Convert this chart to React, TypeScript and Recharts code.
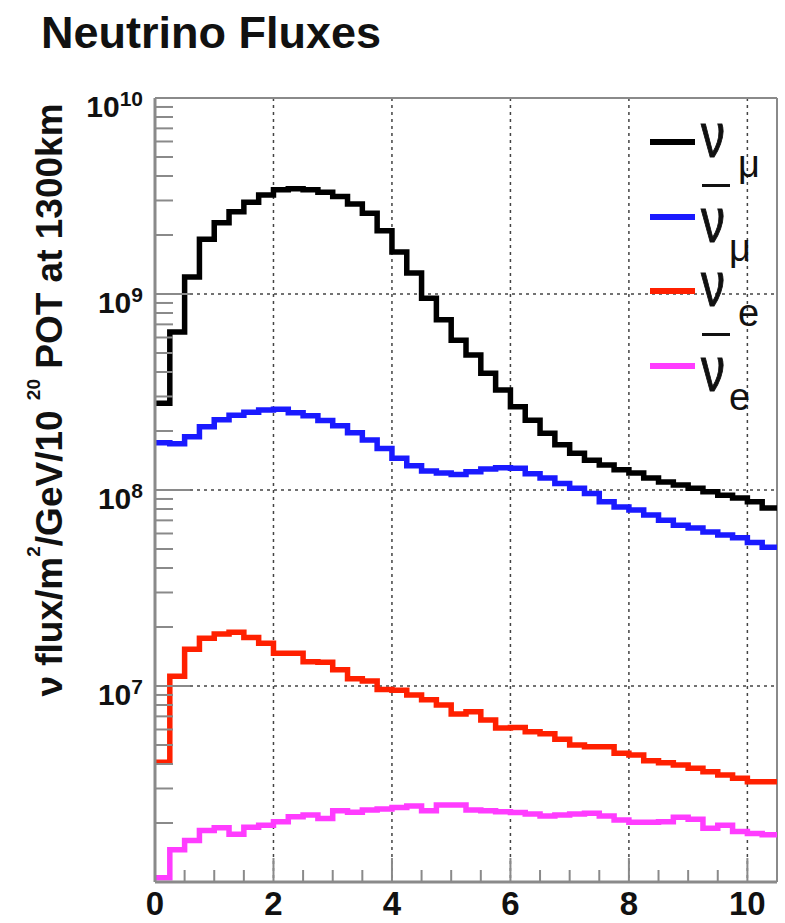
import React from 'react';
import { LineChart, Line, XAxis, YAxis, CartesianGrid, ReferenceLine, Legend } from 'recharts';

// Lower edges of the energy bins (GeV)
const binLow = [
  0, 0.25, 0.5, 0.75, 1, 1.25, 1.5, 1.75, 2, 2.25, 2.5, 2.75, 3, 3.25, 3.5, 3.75,
  4, 4.25, 4.5, 4.75, 5, 5.25, 5.5, 5.75, 6, 6.25, 6.5, 6.75, 7, 7.25, 7.5, 7.75,
  8, 8.25, 8.5, 8.75, 9, 9.25, 9.5, 9.75, 10, 10.25,
];
const lastEdge = 10.5;

const numu = [
  2.77e8, 6.4e8, 1.22e9, 1.9e9, 2.31e9, 2.63e9, 2.94e9, 3.2e9, 3.4e9, 3.44e9, 3.4e9, 3.3e9,
  3.14e9, 2.88e9, 2.58e9, 2.1e9, 1.64e9, 1.28e9, 9.5e8, 7.4e8, 5.8e8, 4.89e8, 3.94e8, 3.24e8,
  2.66e8, 2.27e8, 1.95e8, 1.7e8, 1.54e8, 1.42e8, 1.34e8, 1.27e8, 1.22e8, 1.15e8, 1.1e8, 1.06e8,
  1.02e8, 9.8e7, 9.4e7, 9.1e7, 8.7e7, 8.1e7,
];
const numubar = [
  1.74e8, 1.72e8, 1.87e8, 2.1e8, 2.28e8, 2.41e8, 2.49e8, 2.56e8, 2.58e8, 2.48e8, 2.39e8, 2.26e8,
  2.13e8, 1.96e8, 1.8e8, 1.63e8, 1.45e8, 1.33e8, 1.25e8, 1.22e8, 1.2e8, 1.24e8, 1.28e8, 1.3e8,
  1.29e8, 1.21e8, 1.15e8, 1.08e8, 1.02e8, 9.6e7, 8.7e7, 8.2e7, 7.9e7, 7.45e7, 7.0e7, 6.6e7,
  6.4e7, 6.1e7, 5.9e7, 5.7e7, 5.4e7, 5.1e7,
];
const nue = [
  4.08e6, 1.12e7, 1.54e7, 1.75e7, 1.84e7, 1.88e7, 1.77e7, 1.65e7, 1.47e7, 1.47e7, 1.33e7, 1.32e7,
  1.21e7, 1.09e7, 1.06e7, 9.6e6, 9.5e6, 9.0e6, 8.5e6, 8.0e6, 7.2e6, 7.4e6, 6.7e6, 6.1e6,
  6.15e6, 5.85e6, 5.7e6, 5.35e6, 5.0e6, 4.9e6, 4.9e6, 4.54e6, 4.45e6, 4.16e6, 4.06e6, 3.95e6,
  3.8e6, 3.65e6, 3.52e6, 3.38e6, 3.25e6, 3.25e6,
];
const nuebar = [
  1.05e6, 1.46e6, 1.63e6, 1.83e6, 1.89e6, 1.75e6, 1.9e6, 1.95e6, 2.03e6, 2.15e6, 2.2e6, 2.11e6,
  2.31e6, 2.27e6, 2.33e6, 2.36e6, 2.4e6, 2.44e6, 2.31e6, 2.47e6, 2.47e6, 2.33e6, 2.31e6, 2.28e6,
  2.26e6, 2.22e6, 2.17e6, 2.2e6, 2.22e6, 2.24e6, 2.17e6, 2.07e6, 2.02e6, 2.02e6, 2.03e6, 2.14e6,
  2.09e6, 1.88e6, 1.95e6, 1.81e6, 1.77e6, 1.74e6,
];

const xTicks = [0, 0.5, 1, 1.5, 2, 2.5, 3, 3.5, 4, 4.5, 5, 5.5, 6, 6.5, 7, 7.5, 8, 8.5, 9, 9.5, 10];
const xLabels = [0, 2, 4, 6, 8, 10];
const yTicks = [
  1e6, 2e6, 3e6, 4e6, 5e6, 6e6, 7e6, 8e6, 9e6,
  1e7, 2e7, 3e7, 4e7, 5e7, 6e7, 7e7, 8e7, 9e7,
  1e8, 2e8, 3e8, 4e8, 5e8, 6e8, 7e8, 8e8, 9e8,
  1e9, 2e9, 3e9, 4e9, 5e9, 6e9, 7e9, 8e9, 9e9,
  1e10,
];
const yLabelDecades = [1e7, 1e8, 1e9, 1e10];
const yLabelExponents = ['7', '8', '9', '10'];
const gridY = [1e7, 1e8, 1e9];
const gridX = [2, 4, 6, 8, 10];

const series = [
  { key: 'numu', color: '#000000', sub: 'μ', bar: false },
  { key: 'numubar', color: '#1a1aff', sub: 'μ', bar: true },
  { key: 'nue', color: '#ff2000', sub: 'e', bar: false },
  { key: 'nuebar', color: '#ff3cff', sub: 'e', bar: true },
];

const rows = binLow.map((x, i) => ({
  x,
  numu: numu[i],
  numubar: numubar[i],
  nue: nue[i],
  nuebar: nuebar[i],
}));
rows.push({
  x: lastEdge,
  numu: numu[numu.length - 1],
  numubar: numubar[numubar.length - 1],
  nue: nue[nue.length - 1],
  nuebar: nuebar[nuebar.length - 1],
});

const FONT = '"Liberation Sans", Arial, Helvetica, sans-serif';
const AXIS_GRAY = '#8a8a8a';

const YTick = (props: any) => {
  const { x, y, payload } = props;
  const v = payload.value;
  const idx = yLabelDecades.indexOf(v);
  const isMajor = [1e6, 1e7, 1e8, 1e9, 1e10].indexOf(v) >= 0;
  const len = isMajor ? 35 : 18;
  return (
    <g>
      <line x1={x} y1={y} x2={x + len} y2={y} stroke={AXIS_GRAY} strokeWidth={2} />
      {idx >= 0 && (
        <text x={x - 12} y={y + 19} textAnchor="end" fontFamily={FONT} fontWeight="bold" fill="#111">
          <tspan fontSize={30}>10</tspan>
          <tspan fontSize={21} dy={-11}>{yLabelExponents[idx]}</tspan>
        </text>
      )}
    </g>
  );
};

const XTick = (props: any) => {
  const { x, y, payload } = props;
  const v = payload.value;
  const isMajor = xLabels.indexOf(v) >= 0;
  return (
    <g>
      <line x1={x} y1={y} x2={x} y2={y - (isMajor ? 24 : 12)} stroke={AXIS_GRAY} strokeWidth={2} />
      {isMajor && (
        <text x={x} y={y + 33} textAnchor="middle" fontFamily={FONT} fontWeight="bold" fontSize={33} fill="#111">
          {v}
        </text>
      )}
    </g>
  );
};

const renderLegend = (props: any) => {
  const payload = props.payload || [];
  return (
    <div style={{ position: 'relative', width: 145, height: 300, fontFamily: FONT, color: '#111' }}>
      {series.map((row, k) => {
        const item = payload.find((p: any) => p.dataKey === row.key);
        const color = item && item.color ? item.color : row.color;
        const L = 32 + 74.5 * k;
        const nuBase = L + (row.bar ? 26 : 16);
        const subBase = L + (row.bar ? 45 : 35);
        return (
          <React.Fragment key={row.key}>
            <div style={{ position: 'absolute', left: 10, top: L - 3, width: 45, height: 6, background: color }} />
            {row.bar && (
              <div style={{ position: 'absolute', left: 62, top: L - 32.5, width: 28, height: 3, background: '#111' }} />
            )}
            <span
              style={{
                position: 'absolute',
                left: 61,
                top: nuBase - 40.6,
                fontSize: 48,
                lineHeight: '48px',
                transform: 'scaleY(1.3)',
                transformOrigin: '0 40.6px',
                whiteSpace: 'nowrap',
                WebkitTextStroke: '0.8px #111',
              }}
            >
              ν
            </span>
            <span
              style={{
                position: 'absolute',
                left: row.bar ? 89 : 98,
                top: subBase - 32.2,
                fontSize: 38,
                lineHeight: '38px',
                whiteSpace: 'nowrap',
              }}
            >
              {row.sub}
            </span>
          </React.Fragment>
        );
      })}
    </div>
  );
};

export default function App() {
  const supStyle: React.CSSProperties = { fontSize: 19, position: 'relative', top: -22, lineHeight: 0 };
  return (
    <div
      style={{
        position: 'absolute',
        left: 0,
        top: 0,
        width: 785,
        height: 923,
        background: '#ffffff',
        overflow: 'hidden',
        fontFamily: FONT,
      }}
    >
      <LineChart
        width={785}
        height={923}
        data={rows}
        margin={{ top: 98, right: 8, bottom: 0, left: 0 }}
      >
        <CartesianGrid
          horizontalValues={gridY}
          verticalValues={gridX}
          stroke="#444"
          strokeWidth={1.5}
          strokeDasharray="3 4"
        />
        <XAxis
          dataKey="x"
          type="number"
          domain={[0, 10.5]}
          ticks={xTicks}
          interval={0}
          tickSize={0}
          tickMargin={0}
          tick={<XTick />}
          height={41}
          axisLine={{ stroke: AXIS_GRAY, strokeWidth: 3 }}
          allowDataOverflow
        />
        <YAxis
          scale="log"
          domain={[1e6, 1e10]}
          ticks={yTicks}
          interval={0}
          tickSize={0}
          tickMargin={0}
          tick={<YTick />}
          width={155}
          axisLine={{ stroke: AXIS_GRAY, strokeWidth: 3 }}
          allowDataOverflow
        />
        <ReferenceLine y={1e10} stroke={AXIS_GRAY} strokeWidth={2} />
        <ReferenceLine x={10.5} stroke={AXIS_GRAY} strokeWidth={2} />
        {series.map((s) => (
          <Line
            key={s.key}
            dataKey={s.key}
            type="stepAfter"
            stroke={s.color}
            strokeWidth={5.5}
            dot={false}
            activeDot={false}
            strokeLinejoin="miter"
            isAnimationActive={false}
          />
        ))}
        <Legend
          layout="vertical"
          align="center"
          verticalAlign="middle"
          content={renderLegend}
          wrapperStyle={{ position: 'absolute', left: 640, top: 110, width: 145, height: 300 }}
        />
      </LineChart>
      <div
        style={{
          position: 'absolute',
          left: 41,
          top: 10,
          fontSize: 45,
          lineHeight: '45px',
          fontWeight: 'bold',
          color: '#111',
          whiteSpace: 'nowrap',
        }}
      >
        Neutrino Fluxes
      </div>
      <div
        style={{
          position: 'absolute',
          left: 0,
          top: 0,
          transformOrigin: '0 0',
          transform: 'translate(62px, 400px) rotate(-90deg) translate(-50%, -31.3px)',
          fontSize: 37,
          lineHeight: '37px',
          fontWeight: 'bold',
          color: '#111',
          whiteSpace: 'nowrap',
        }}
      >
        ν flux/m<span style={supStyle}>2</span>/GeV/10 <span style={supStyle}>20</span> POT at 1300km
      </div>
    </div>
  );
}
